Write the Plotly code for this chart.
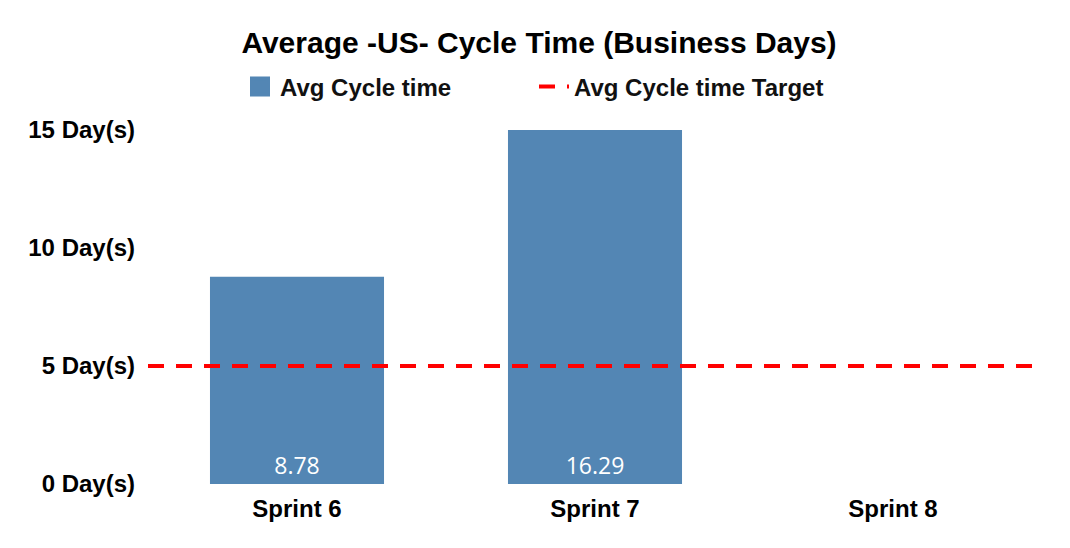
import plotly.graph_objects as go

# data
sprints = ["Sprint 6", "Sprint 7", "Sprint 8"]
avg_cycle_time = [8.78, 16.29, None]
target_days = 5
y_ticks = [0, 5, 10, 15]
y_tick_labels = [f"{v} Day(s)" for v in y_ticks]

bar_color = "#5386b4"
bold_font = dict(family="Liberation Sans, Arial", size=24, color="#000", weight="bold")
legend_font = dict(family="Liberation Sans, Arial", size=24, color="#111", weight="bold")

fig = go.Figure()

fig.add_bar(
    x=sprints, y=avg_cycle_time,
    text=["" if v is None else f"{v:.2f}" for v in avg_cycle_time],
    textposition="inside", insidetextanchor="start",
    textfont=dict(family="Open Sans", size=23, color="white", weight="normal"),
    marker=dict(color=bar_color, line=dict(width=0)),
    showlegend=False, cliponaxis=True,
)
# legend entry for the bars (bigger square than the default bar swatch)
fig.add_scatter(
    x=[None], y=[None], mode="markers", name="Avg Cycle time", legend="legend",
    marker=dict(symbol="square", size=16, color=bar_color,
                line=dict(color=bar_color, width=4)),
)
# target line spanning the full plot width
fig.add_scatter(
    x=[0, 1], y=[target_days, target_days], xaxis="x2", mode="lines",
    name="Avg Cycle time Target", legend="legend2",
    line=dict(color="#ff0000", width=4, dash="16px,12px"),
)

# page body adds an 8px offset, so the figure is sized 8px smaller
W, H = 1062, 540
L, R, T, B = 140, 28, 122, 64
plot_w, plot_h = W - L - R, H - T - B
legend_y = 1 + (T - 79) / plot_h

fig.update_layout(
    width=W, height=H,
    margin=dict(l=L, r=R, t=T, b=B),
    paper_bgcolor="white", plot_bgcolor="white",
    bargap=0.416,
    title=dict(text="<b>Average -US- Cycle Time (Business Days)</b>",
               x=0.5, xanchor="center", y=1 - 34 / H, yanchor="middle",
               font=dict(family="Liberation Sans, Arial", size=30, color="#000")),
    legend=dict(orientation="h", x=(232 - L) / plot_w, xanchor="left",
                y=legend_y, yanchor="middle",
                font=legend_font, itemsizing="trace"),
    legend2=dict(orientation="h", x=(526 - L) / plot_w, xanchor="left",
                 y=legend_y, yanchor="middle", font=legend_font),
    font=bold_font,
    xaxis=dict(showgrid=False, zeroline=False, showline=False,
               tickfont=bold_font, ticklabelstandoff=8),
    xaxis2=dict(overlaying="x", range=[0, 1], visible=False),
    yaxis=dict(range=[0, 15], tickvals=y_ticks, ticktext=y_tick_labels,
               showgrid=False, zeroline=False, showline=False,
               tickfont=bold_font, ticklabelstandoff=12),
)

fig.write_html("out.html")
